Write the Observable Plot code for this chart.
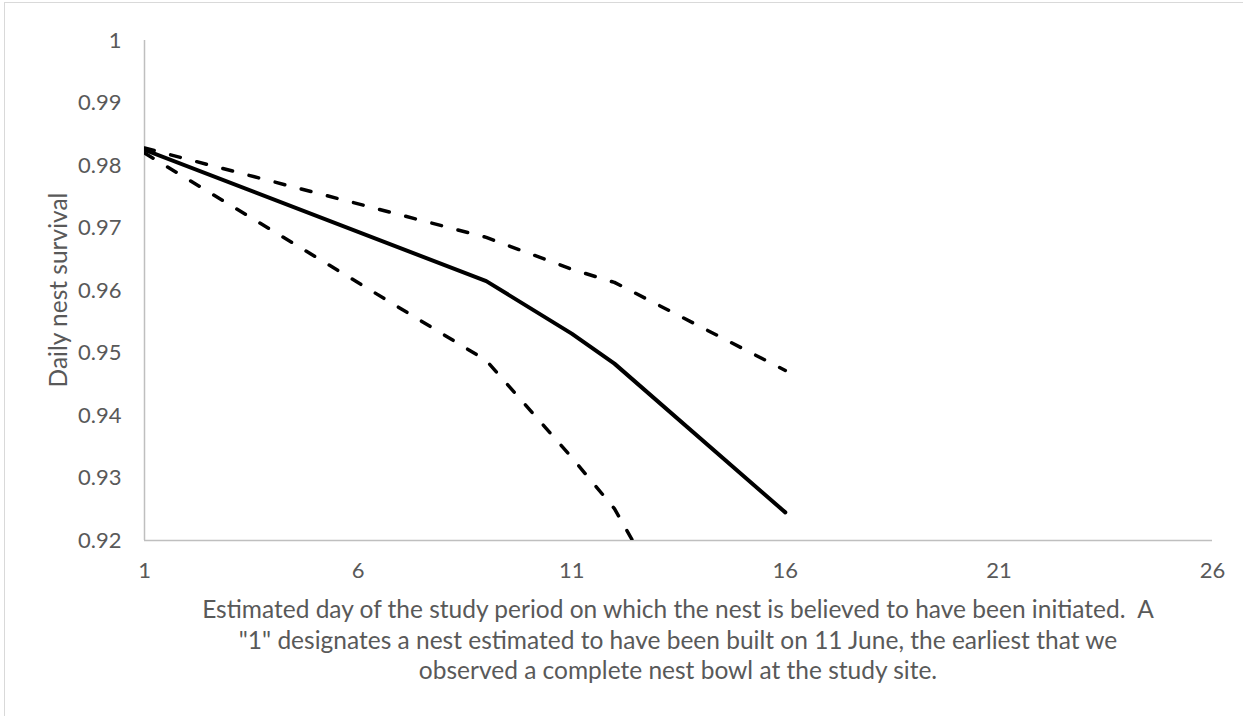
<!DOCTYPE html>
<html>
<head>
<meta charset="utf-8">
<script src="https://cdn.jsdelivr.net/npm/d3@7"></script>
<script src="https://cdn.jsdelivr.net/npm/@observablehq/plot@0.6"></script>
<style>
  html, body { margin: 0; padding: 0; background: #fff; overflow: hidden; }
  #wrap { position: relative; width: 1243px; height: 716px; }
  #frame { position: absolute; left: 4px; top: 2px; width: 1300px; height: 800px;
           border-left: 1px solid #d9d9d9; border-top: 1px solid #d9d9d9; }
  #chart { position: absolute; left: 0; top: 0; }
  #ytitle { position: absolute; left: 57px; top: 290px; transform: translate(-50%, -50%) rotate(-90deg);
            font-family: Lato, sans-serif; font-size: 24.5px; color: #595959; white-space: nowrap; }
  #caption { position: absolute; left: 144px; width: 1068px; top: 594px; text-align: center;
             font-family: Lato, sans-serif; font-size: 24.5px; line-height: 30.5px; color: #595959; white-space: nowrap; }
</style>
</head>
<body>
<div id="wrap">
  <div id="frame"></div>
  <div id="chart"></div>
  <div id="ytitle">Daily nest survival</div>
  <div id="caption">Estimated day of the study period on which the nest is believed to have been initiated.&nbsp; A<br>"1" designates a nest estimated to have been built on 11 June, the earliest that we<br>observed a complete nest bowl at the study site.</div>
</div>
<script>
// ---- data ----
const days = [1, 9, 11, 12, 16];
const meanSurvival = [0.9825, 0.9615, 0.9531, 0.9483, 0.9245];
const upperCI = [0.9828, 0.9685, 0.9634, 0.9613, 0.9472];
const lowerCI = [0.9820, 0.9488, 0.9333, 0.9251, 0.8770];
const xTicks = [1, 6, 11, 16, 21, 26];
const yTicks = [0.92, 0.93, 0.94, 0.95, 0.96, 0.97, 0.98, 0.99, 1];

const toRows = (vals) => days.map((d, i) => ({day: d, value: vals[i]}));
const meanRows = toRows(meanSurvival);
const upperRows = toRows(upperCI);
const lowerRows = toRows(lowerCI);
const fmt = d => String(+d.toFixed(2));

const chart = Plot.plot({
  width: 1243,
  height: 590,
  marginTop: 40,
  marginLeft: 144,
  marginRight: 31,
  marginBottom: 50,
  style: {fontFamily: "Lato, sans-serif", fontSize: "22px", color: "#595959", background: "transparent"},
  x: {domain: [1, 26], label: null},
  y: {domain: [0.92, 1], label: null},
  marks: [
    Plot.axisX({ticks: xTicks, tickSize: 0, tickPadding: 22, label: null}),
    Plot.axisY({ticks: yTicks, tickSize: 0, tickPadding: 23, tickFormat: fmt, label: null}),
    Plot.ruleX([1], {stroke: "#bfbfbf", strokeWidth: 1.5}),
    Plot.ruleY([0.92], {stroke: "#bfbfbf", strokeWidth: 1.5}),
    Plot.line(upperRows, {x: "day", y: "value", stroke: "#000", strokeWidth: 3.5, strokeDasharray: "10,17", strokeLinecap: "round", clip: true}),
    Plot.line(lowerRows, {x: "day", y: "value", stroke: "#000", strokeWidth: 3.5, strokeDasharray: "10,17", strokeLinecap: "round", clip: true}),
    Plot.line(meanRows, {x: "day", y: "value", stroke: "#000", strokeWidth: 4, strokeLinecap: "round", clip: true})
  ]
});
document.getElementById("chart").appendChild(chart);
</script>
</body>
</html>
